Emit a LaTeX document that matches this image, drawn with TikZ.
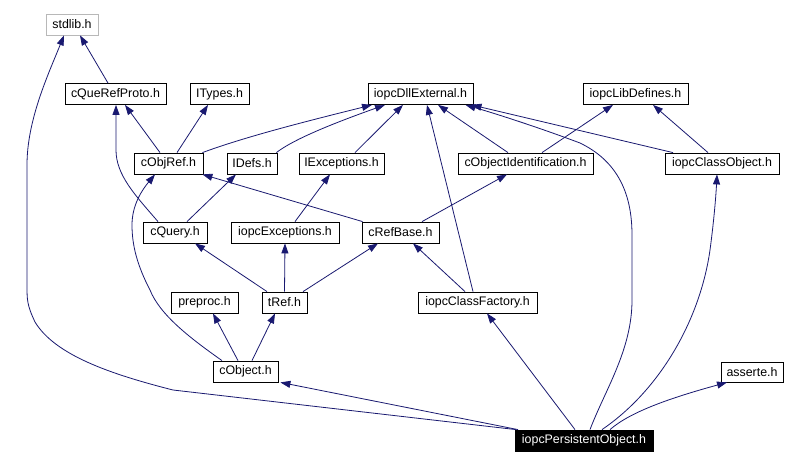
\documentclass[tikz,border=0pt]{standalone}
\usepackage{fontspec}
\setmainfont{Liberation Sans}
\usetikzlibrary{arrows.meta}
\definecolor{edgeblue}{HTML}{191970}
\begin{document}
\begin{tikzpicture}[x=1pt,y=-1pt,
  box/.style={draw=black,line width=0.8pt,minimum height=21pt,inner sep=0pt,font=\fontsize{12.4}{14}\selectfont},
  dep/.style={draw=edgeblue,line width=0.8pt,-{Triangle[length=10pt,width=7pt]}}]
\useasboundingbox[fill=white] (0,0) rectangle (799,465);
% nodes
\node[box,draw=black!28,minimum width=52pt] (std) at (72,24.5) {stdlib.h};
\node[box,minimum width=101pt] (cqr) at (115.5,94) {cQueRefProto.h};
\node[box,minimum width=59pt] (lty) at (219.5,94) {ITypes.h};
\node[box,minimum width=105pt] (dll) at (420.5,94) {iopcDllExternal.h};
\node[box,minimum width=105pt] (lib) at (635.5,94) {iopcLibDefines.h};
\node[box,minimum width=69pt] (cor) at (168.5,163.5) {cObjRef.h};
\node[box,minimum width=50pt] (idf) at (252,163.5) {IDefs.h};
\node[box,minimum width=85pt] (iex) at (341.5,163.5) {IExceptions.h};
\node[box,minimum width=135pt] (coi) at (525.5,163.5) {cObjectIdentification.h};
\node[box,minimum width=114pt] (ico) at (722,163.5) {iopcClassObject.h};
\node[box,minimum width=64pt] (cq) at (175,232.5) {cQuery.h};
\node[box,minimum width=108pt] (iox) at (285,232.5) {iopcExceptions.h};
\node[box,minimum width=77pt] (crb) at (400.5,232.5) {cRefBase.h};
\node[box,minimum width=67pt] (pre) at (204.5,302.5) {preproc.h};
\node[box,minimum width=45pt] (tr) at (284.5,302.5) {tRef.h};
\node[box,minimum width=119pt] (icf) at (477.5,302.5) {iopcClassFactory.h};
\node[box,minimum width=65pt] (co) at (245.5,371.5) {cObject.h};
\node[box,minimum width=62pt,minimum height=20pt] (as) at (752,372) {asserte.h};
\node[box,fill=black,text=white,minimum width=138pt] (po) at (584,440.5) {iopcPersistentObject.h};
% edges
\draw[dep] ([xshift=-7.5]cqr.north) -- ([xshift=8]std.south);
\draw[dep] ([xshift=-68]po.north) -- (173,390) .. controls (110,374) and (55,355) .. (35,322) .. controls (27,305) and (27,300) .. (27,285) -- (27,165) .. controls (27,120) and (48,75) .. ([xshift=-8]std.south);
\draw[dep] ([xshift=-8.5]cor.north) -- ([xshift=9.5]cqr.south);
\draw[dep] ([xshift=-17]cq.north) .. controls (135,195) and (116,175) .. (116,150) -- ([xshift=0.5]cqr.south);
\draw[dep] ([xshift=8.5]cor.north) -- ([xshift=-11.5]lty.south);
\draw[dep] ([xshift=-1]cor.north east) .. controls (250,135) and (320,118) .. ([xshift=-48.5]dll.south);
\draw[dep] ([xshift=-1]idf.north east) .. controls (290,142) and (320,128) .. ([xshift=-35.5]dll.south);
\draw[dep] ([xshift=13.5]iex.north) -- ([xshift=-17.5]dll.south);
\draw[dep] ([xshift=-17.5]coi.north) -- ([xshift=17.5]dll.south);
\draw[dep] ([xshift=-49]ico.north) -- ([xshift=51]dll.south);
\draw[dep] ([xshift=-4.5]icf.north) -- ([xshift=6.5]dll.south);
\draw[dep] ([xshift=6]po.north) .. controls (605,390) and (632,350) .. (632,300) -- (632,235) .. controls (632,190) and (615,160) .. (580,143) .. controls (540,128) and (500,115) .. ([xshift=45]dll.south);
\draw[dep] ([xshift=16.5]coi.north) -- ([xshift=-22.5]lib.south);
\draw[dep] ([xshift=-14]ico.north) -- ([xshift=17.5]lib.south);
\draw[dep] ([xshift=12]cq.north) -- ([xshift=-16]idf.south);
\draw[dep] ([xshift=-23.5]co.north) .. controls (190,338) and (160,315) .. (150,290) .. controls (137,265) and (132,245) .. (132,225) .. controls (132,205) and (142,190) .. ([xshift=-13.5]cor.south);
\draw[dep] ([xshift=1]crb.north west) -- ([xshift=-1]cor.south east);
\draw[dep] ([xshift=21.5]crb.north) -- ([xshift=-18.5]coi.south);
\draw[dep] ([xshift=10]iox.north) -- ([xshift=-11.5]iex.south);
\draw[dep] ([xshift=-17.5]tr.north) -- ([xshift=20]cq.south);
\draw[dep] (tr.north) -- (iox.south);
\draw[dep] ([xshift=18.5]tr.north) -- ([xshift=-22.5]crb.south);
\draw[dep] ([xshift=-12.5]icf.north) -- ([xshift=12.5]crb.south);
\draw[dep] ([xshift=-7.5]co.north) -- ([xshift=8.5]pre.south);
\draw[dep] ([xshift=6.5]co.north) -- ([xshift=-9.5]tr.south);
\draw[dep] ([xshift=-9]po.north) -- ([xshift=9.5]icf.south);
\draw[dep] ([xshift=-66]po.north) -- ([xshift=2]co.south east);
\draw[dep] ([xshift=18]po.north) .. controls (660,390) and (700,320) .. (710,250) .. controls (714,220) and (716,195) .. ([xshift=-5]ico.south);
\draw[dep] ([xshift=26]po.north) .. controls (630,412) and (670,398) .. ([xshift=-25]as.south);
\end{tikzpicture}
\end{document}
